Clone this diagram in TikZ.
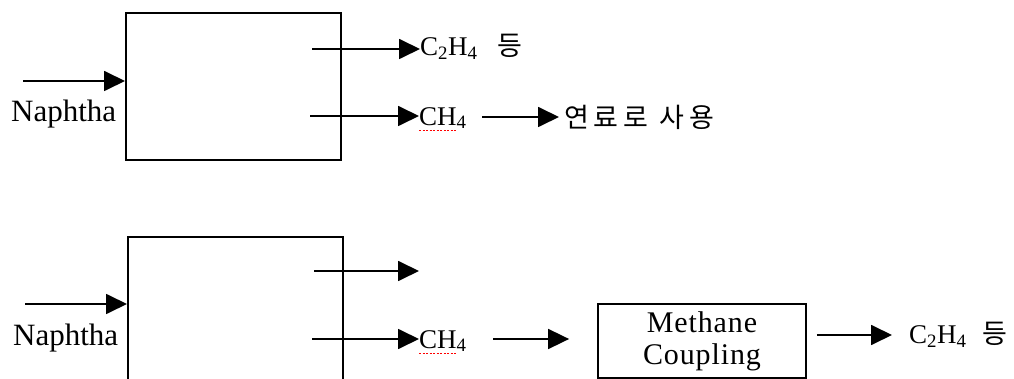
\documentclass[tikz,border=0pt]{standalone}
\usepackage{fontspec}
\setmainfont{Liberation Serif}
\newfontfamily\kr{Noto Sans CJK KR}[LetterSpace=18]
\usetikzlibrary{arrows.meta}
\tikzset{
  box/.style={draw, line width=1.8pt, anchor=north west, inner sep=0pt},
  arr/.style={line width=1.8pt, -{Triangle[length=21pt,width=20pt]}},
  lbl/.style={inner sep=0pt, font=\fontsize{31}{33}\selectfont},
  chem/.style={inner sep=0pt, font=\fontsize{27}{29}\selectfont},
  krf/.style={font=\kr\fontsize{27}{29}\selectfont},
  spell/.style={red, line width=0.9pt, dash pattern=on 2pt off 1.5pt},
}
\newcommand{\myeq}{{\kr\fontsize{27}{29}\selectfont 등}}
\begin{document}
\begin{tikzpicture}[x=1pt,y=-1pt]
\useasboundingbox (0,0) rectangle (1014,379);
\clip (0,0) rectangle (1014,379);
% ---------- top ----------
\node[box, minimum width=215pt, minimum height=147pt] (A) at (125,12) {};
\coordinate (inA) at (23,81);
\draw[arr] (inA) -- (inA -| A.west);
\node[lbl, anchor=west] (nA) at (11,114) {Naphtha};
\node[chem, anchor=west] (c2a) at (420,47) {C\textsubscript{2}H\textsubscript{4}\hspace{20pt}\myeq};
\node[chem, anchor=west] (ch4a) at (419,118) {CH\textsubscript{4}};
\node[inner sep=0pt, krf, anchor=west] (kor) at (564,117) {연료로 사용};
\coordinate (oA1) at (312,49);
\coordinate (oA2) at (310,116);
\draw[arr] (oA1) -- (oA1 -| c2a.west);
\draw[arr] (oA2) -- (oA2 -| ch4a.west);
\draw[arr] ([xshift=-82pt]kor.west) -- ([xshift=-5pt]kor.west);
\draw[spell] ([yshift=-1pt]ch4a.south west) -- ++(37,0);
% ---------- bottom ----------
\node[box, minimum width=215pt, minimum height=160pt] (B) at (127,236) {};
\coordinate (inB) at (25,304);
\draw[arr] (inB) -- (inB -| B.west);
\node[lbl, anchor=west] (nB) at (13,338) {Naphtha};
\coordinate (oB1) at (314,271);
\coordinate (oB1e) at (419,271);
\coordinate (oB2) at (312,339);
\node[chem, anchor=west] (ch4b) at (419,341) {CH\textsubscript{4}};
\draw[arr] (oB1) -- (oB1e);
\draw[arr] (oB2) -- (oB2 -| ch4b.west);
\draw[spell] ([yshift=-1pt]ch4b.south west) -- ++(37,0);
\node[box, anchor=center, minimum width=208pt, minimum height=74pt, align=center,
      font=\addfontfeatures{LetterSpace=3}\fontsize{30}{32}\selectfont] (M) at (702,341) {Methane\\Coupling};
\node[chem, anchor=west] (c2b) at (909,335) {C\textsubscript{2}H\textsubscript{4}\hspace{16pt}\myeq};
\draw[arr] ([xshift=-104pt]M.west |- 0,339) -- ([xshift=-28pt]M.west |- 0,339);
\draw[arr] ([xshift=10pt]M.east |- c2b.west) -- ([xshift=-17pt]c2b.west);
\end{tikzpicture}
\end{document}
